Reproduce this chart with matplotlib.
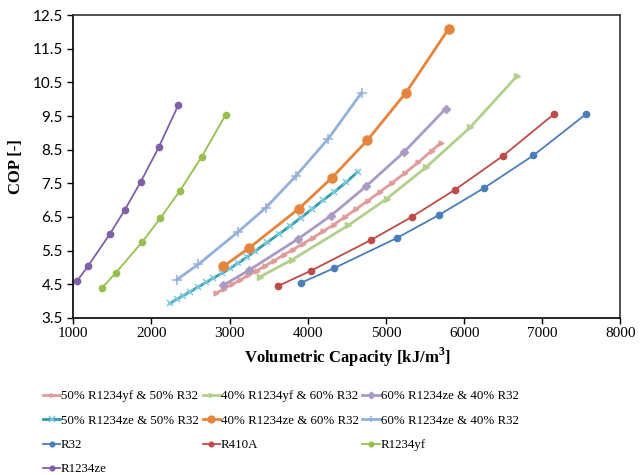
import matplotlib
matplotlib.use("Agg")
import matplotlib.pyplot as plt

# ---- data ----
r1234ze_x = [1050, 1192, 1470, 1657, 1862, 2093, 2344]
r1234ze_y = [4.60, 5.05, 6.00, 6.70, 7.54, 8.57, 9.83]

r1234yf_x = [1367, 1546, 1883, 2113, 2365, 2643, 2950]
r1234yf_y = [4.39, 4.84, 5.76, 6.46, 7.28, 8.29, 9.54]

r32_x = [3914, 4340, 5146, 5680, 6255, 6886, 7560]
r32_y = [4.54, 4.98, 5.88, 6.56, 7.36, 8.33, 9.56]

r410a_x = [3623, 4041, 4806, 5330, 5884, 6494, 7155]
r410a_y = [4.45, 4.90, 5.81, 6.50, 7.31, 8.31, 9.57]

ze40_r32_60_x = [2920, 3252, 3888, 4306, 4762, 5257, 5800]
ze40_r32_60_y = [5.03, 5.58, 6.75, 7.66, 8.78, 10.20, 12.09]

ze60_r32_40_x = [2920, 3252, 3879, 4297, 4745, 5231, 5764]
ze60_r32_40_y = [4.47, 4.92, 5.85, 6.54, 7.41, 8.43, 9.72]

ze60b_r32_40_x = [2323, 2600, 3111, 3466, 3845, 4263, 4690]
ze60b_r32_40_y = [4.63, 5.09, 6.06, 6.78, 7.71, 8.83, 10.20]

yf40_r32_60_x = [3389, 3795, 4519, 5010, 5510, 6076, 6680]
yf40_r32_60_y = [4.72, 5.22, 6.25, 7.04, 7.97, 9.16, 10.70]

ze50_r32_50_x = [2237, 2323, 2408, 2493, 2600, 2698, 2791, 2899, 3005, 3111, 3219,
                 3325, 3479, 3636, 3773, 3910, 4051, 4191, 4336, 4490, 4639]
ze50_r32_50_y = [3.93, 4.05, 4.16, 4.27, 4.42, 4.55, 4.68, 4.82, 4.97, 5.13, 5.30,
                 5.48, 5.74, 6.00, 6.23, 6.47, 6.73, 6.99, 7.24, 7.53, 7.84]

yf50_r32_50_x = [2826, 2926, 3026, 3131, 3236, 3346, 3456, 3571, 3691, 3811, 3936, 4066,
                 4196, 4331, 4471, 4616, 4766, 4921, 5081, 5246, 5416, 5586, 5705]
yf50_r32_50_y = [4.23, 4.36, 4.49, 4.62, 4.76, 4.90, 5.05, 5.20, 5.37, 5.53, 5.70, 5.88,
                 6.07, 6.27, 6.49, 6.73, 6.98, 7.24, 7.52, 7.81, 8.13, 8.47, 8.71]

x_ticks = [1000, 2000, 3000, 4000, 5000, 6000, 7000, 8000]
y_ticks = [3.5, 4.5, 5.5, 6.5, 7.5, 8.5, 9.5, 10.5, 11.5, 12.5]

fig = plt.figure(figsize=(6.4, 4.75), dpi=100)
ax = fig.add_axes([0.1145, 0.331, 0.855, 0.637])

h = {}
h[0], = ax.plot(yf50_r32_50_x, yf50_r32_50_y, color='#df9c9b', lw=2.0, marker='>',
                ms=3.5, label='50% R1234yf & 50% R32')
h[1], = ax.plot(yf40_r32_60_x, yf40_r32_60_y, color='#b2cf8c', lw=2.0, marker='>',
                ms=4, label='40% R1234yf & 60% R32')
h[2], = ax.plot(ze60_r32_40_x, ze60_r32_40_y, color='#a99bc6', lw=2.0, marker='D',
                ms=4.5, label='60% R1234ze & 40% R32')
h[3], = ax.plot(ze50_r32_50_x, ze50_r32_50_y, color='#2f9db0', lw=2.0, marker='x',
                ms=5, mec='#7fcbe0', mew=1.1, label='50% R1234ze & 50% R32')
h[4], = ax.plot(ze40_r32_60_x, ze40_r32_60_y, color='#e5843a', lw=2.0, marker='o',
                ms=6.5, label='40% R1234ze & 60% R32')
h[5], = ax.plot(ze60b_r32_40_x, ze60b_r32_40_y, color='#93b0da', lw=2.0, marker='+',
                ms=6.5, mew=1.1, label='60% R1234ze & 40% R32')
h[6], = ax.plot(r32_x, r32_y, color='#4a7ebb', lw=1.3, marker='o', ms=4.5, label='R32')
h[7], = ax.plot(r410a_x, r410a_y, color='#be4b48', lw=1.3, marker='o', ms=4.5, label='R410A')
h[8], = ax.plot(r1234yf_x, r1234yf_y, color='#98bf4e', lw=1.3, marker='o', ms=4.5,
                label='R1234yf')
h[9], = ax.plot(r1234ze_x, r1234ze_y, color='#7f5fa6', lw=1.3, marker='o', ms=4.5,
                label='R1234ze')

ax.set_xlim(1000, 8000)
ax.set_ylim(3.5, 12.5)
ax.set_xticks(x_ticks)
ax.set_yticks(y_ticks)
ax.set_xticklabels([str(v) for v in x_ticks], fontfamily='Liberation Serif', fontsize=11)
ax.set_yticklabels([str(v) for v in y_ticks], fontfamily='Lato', fontsize=11)
ax.tick_params(axis='both', direction='out', length=4, width=1, colors='black')
ax.tick_params(axis='x', pad=3)
for s in ax.spines.values():
    s.set_linewidth(1.2)
    s.set_color('#333333')
ax.spines['left'].set_color('black')
ax.spines['bottom'].set_color('black')

ax.set_xlabel('Volumetric Capacity [kJ/m$^\\mathregular{3}$]', fontfamily='Liberation Serif',
              fontweight='bold', fontsize=12, labelpad=4)
ax.set_ylabel('COP [-]', fontfamily='Liberation Serif', fontweight='bold', fontsize=12,
              labelpad=6)

# row-major legend order
order = [0, 3, 6, 9, 1, 4, 7, 2, 5, 8]
leg = fig.legend([h[i] for i in order], [h[i].get_label() for i in order],
                 loc='upper left', bbox_to_anchor=(0.067, 0.178), ncol=3, frameon=False,
                 prop={'family': 'Liberation Serif', 'size': 9.3}, handlelength=1.35,
                 handletextpad=0.05, columnspacing=0.3, labelspacing=0.95,
                 markerscale=0.75, borderpad=0, borderaxespad=0)

fig.savefig('out.png', dpi=100)
